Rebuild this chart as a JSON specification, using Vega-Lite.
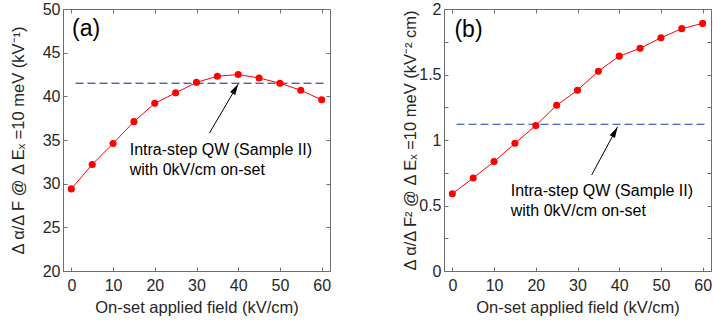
{
  "$schema": "https://vega.github.io/schema/vega-lite/v6.json",
  "padding": {"left": 10, "top": 1, "right": 0, "bottom": 0},
  "spacing": 71,
  "config": {
    "font": "Liberation Sans",
    "view": {"stroke": null},
    "axis": {
      "grid": false,
      "domainColor": "#6e6e6e",
      "tickColor": "#6e6e6e",
      "labelColor": "#262626",
      "titleColor": "#262626",
      "labelFont": "Liberation Sans",
      "titleFont": "Liberation Sans",
      "labelFontSize": 16,
      "titleFontSize": 16.5,
      "titleFontWeight": "normal",
      "tickSize": -4,
      "domainWidth": 1,
      "tickWidth": 1
    },
    "axisX": {"labelPadding": 10, "titlePadding": 6},
    "axisY": {"labelPadding": 7}
  },
  "datasets": {
    "a": [
      {"field": 0, "value": 29.4}, {"field": 5, "value": 32.2}, {"field": 10, "value": 34.6},
      {"field": 15, "value": 37.1}, {"field": 20, "value": 39.2}, {"field": 25, "value": 40.4},
      {"field": 30, "value": 41.6}, {"field": 35, "value": 42.3}, {"field": 40, "value": 42.5},
      {"field": 45, "value": 42.1}, {"field": 50, "value": 41.5}, {"field": 55, "value": 40.7},
      {"field": 60, "value": 39.6}
    ],
    "b": [
      {"field": 0, "value": 0.59}, {"field": 5, "value": 0.71}, {"field": 10, "value": 0.835},
      {"field": 15, "value": 0.975}, {"field": 20, "value": 1.11}, {"field": 25, "value": 1.265},
      {"field": 30, "value": 1.38}, {"field": 35, "value": 1.525}, {"field": 40, "value": 1.64},
      {"field": 45, "value": 1.7}, {"field": 50, "value": 1.78}, {"field": 55, "value": 1.85},
      {"field": 60, "value": 1.89}
    ]
  },
  "hconcat": [
    {
      "width": 267,
      "height": 262,
      "resolve": {"axis": {"x": "independent", "y": "independent"}},
      "layer": [
        {
          "data": {"values": [{"x": 1, "x2": 61, "y": 41.5}]},
          "mark": {"type": "rule", "color": "#16206e", "strokeDash": [8, 4], "strokeWidth": 1},
          "encoding": {
            "x": {"field": "x", "type": "quantitative", "scale": {"domain": [-2, 62], "nice": false, "zero": false},
              "axis": {"orient": "top", "values": [0, 10, 20, 30, 40, 50, 60], "labels": false, "title": null}},
            "x2": {"field": "x2"},
            "y": {"field": "y", "type": "quantitative", "scale": {"domain": [20, 50], "nice": false, "zero": false},
              "axis": {"orient": "right", "values": [20, 25, 30, 35, 40, 45, 50], "labels": false, "title": null}}
          }
        },
        {
          "data": {"name": "a"},
          "mark": {"type": "line", "color": "#ff0000", "strokeWidth": 1, "point": {"filled": true, "size": 50, "color": "#ff0000", "opacity": 1}},
          "encoding": {
            "x": {"field": "field", "type": "quantitative", "scale": {"domain": [-2, 62], "nice": false, "zero": false},
              "axis": {"orient": "bottom", "values": [0, 10, 20, 30, 40, 50, 60], "title": "On-set applied field (kV/cm)"}},
            "y": {"field": "value", "type": "quantitative", "scale": {"domain": [20, 50], "nice": false, "zero": false},
              "axis": {"orient": "left", "values": [20, 25, 30, 35, 40, 45, 50], "title": "Δ α/Δ F @ Δ Eₓ =10 meV (kV⁻¹)", "titlePadding": 16}}
          }
        },
        {
          "data": {"values": [{"x": 33.1, "y": 35.8, "x2": 40, "y2": 41.4}]},
          "mark": {"type": "rule", "color": "#000000", "strokeWidth": 1},
          "encoding": {
            "x": {"field": "x", "type": "quantitative", "axis": null},
            "y": {"field": "y", "type": "quantitative", "axis": null},
            "x2": {"field": "x2"},
            "y2": {"field": "y2"}
          }
        },
        {
          "data": {"values": [{"x": 40, "y": 41.4}]},
          "mark": {"type": "point", "shape": "M0,0L-0.6,2.2L0.6,2.2Z", "size": 100, "filled": true, "color": "#000000", "opacity": 1, "angle": 30.5},
          "encoding": {
            "x": {"field": "x", "type": "quantitative", "axis": null},
            "y": {"field": "y", "type": "quantitative", "axis": null}
          }
        },
        {
          "data": {"values": [
            {"x": 14, "y": 33.28, "label": "Intra-step QW (Sample II)"},
            {"x": 14, "y": 30.99, "label": "with 0kV/cm on-set"}
          ]},
          "mark": {"type": "text", "align": "left", "baseline": "alphabetic", "fontSize": 16, "color": "#000000"},
          "encoding": {
            "x": {"field": "x", "type": "quantitative", "axis": null},
            "y": {"field": "y", "type": "quantitative", "axis": null},
            "text": {"field": "label"}
          }
        },
        {
          "data": {"values": [{"x": 0.15, "y": 47.7, "label": "(a)"}]},
          "mark": {"type": "text", "align": "left", "baseline": "middle", "fontSize": 23, "color": "#000000"},
          "encoding": {
            "x": {"field": "x", "type": "quantitative", "axis": null},
            "y": {"field": "y", "type": "quantitative", "axis": null},
            "text": {"field": "label"}
          }
        }
      ]
    },
    {
      "width": 267,
      "height": 262,
      "resolve": {"axis": {"x": "independent", "y": "independent"}},
      "layer": [
        {
          "data": {"values": [{"x": 1, "x2": 61, "y": 1.12}]},
          "mark": {"type": "rule", "color": "#1a3ab8", "strokeDash": [8, 4], "strokeWidth": 1},
          "encoding": {
            "x": {"field": "x", "type": "quantitative", "scale": {"domain": [-2, 62], "nice": false, "zero": false},
              "axis": {"orient": "top", "values": [0, 10, 20, 30, 40, 50, 60], "labels": false, "title": null}},
            "x2": {"field": "x2"},
            "y": {"field": "y", "type": "quantitative", "scale": {"domain": [0, 2], "nice": false, "zero": false},
              "axis": {"orient": "right", "values": [0, 0.25, 0.5, 0.75, 1, 1.25, 1.5, 1.75, 2], "labels": false, "title": null}}
          }
        },
        {
          "data": {"name": "b"},
          "mark": {"type": "line", "color": "#ff0000", "strokeWidth": 1, "point": {"filled": true, "size": 50, "color": "#ff0000", "opacity": 1}},
          "encoding": {
            "x": {"field": "field", "type": "quantitative", "scale": {"domain": [-2, 62], "nice": false, "zero": false},
              "axis": {"orient": "bottom", "values": [0, 10, 20, 30, 40, 50, 60], "title": "On-set applied field (kV/cm)"}},
            "y": {"field": "value", "type": "quantitative", "scale": {"domain": [0, 2], "nice": false, "zero": false},
              "axis": {"orient": "left", "values": [0, 0.25, 0.5, 0.75, 1, 1.25, 1.5, 1.75, 2],
                "labelExpr": "datum.value % 0.5 === 0 ? format(datum.value, '~g') : ''",
                "title": "Δ α/Δ F² @ Δ Eₓ =10 meV (kV⁻² cm)", "titlePadding": 0}}
          }
        },
        {
          "data": {"values": [{"x": 33.4, "y": 0.733, "x2": 39.6, "y2": 1.1}]},
          "mark": {"type": "rule", "color": "#000000", "strokeWidth": 1},
          "encoding": {
            "x": {"field": "x", "type": "quantitative", "axis": null},
            "y": {"field": "y", "type": "quantitative", "axis": null},
            "x2": {"field": "x2"},
            "y2": {"field": "y2"}
          }
        },
        {
          "data": {"values": [{"x": 39.6, "y": 1.1}]},
          "mark": {"type": "point", "shape": "M0,0L-0.6,2.2L0.6,2.2Z", "size": 100, "filled": true, "color": "#000000", "opacity": 1, "angle": 28.3},
          "encoding": {
            "x": {"field": "x", "type": "quantitative", "axis": null},
            "y": {"field": "y", "type": "quantitative", "axis": null}
          }
        },
        {
          "data": {"values": [
            {"x": 14, "y": 0.575, "label": "Intra-step QW (Sample II)"},
            {"x": 14, "y": 0.42, "label": "with 0kV/cm on-set"}
          ]},
          "mark": {"type": "text", "align": "left", "baseline": "alphabetic", "fontSize": 16, "color": "#000000"},
          "encoding": {
            "x": {"field": "x", "type": "quantitative", "axis": null},
            "y": {"field": "y", "type": "quantitative", "axis": null},
            "text": {"field": "label"}
          }
        },
        {
          "data": {"values": [{"x": 0.5, "y": 1.836, "label": "(b)"}]},
          "mark": {"type": "text", "align": "left", "baseline": "middle", "fontSize": 23, "color": "#000000"},
          "encoding": {
            "x": {"field": "x", "type": "quantitative", "axis": null},
            "y": {"field": "y", "type": "quantitative", "axis": null},
            "text": {"field": "label"}
          }
        }
      ]
    }
  ]
}
